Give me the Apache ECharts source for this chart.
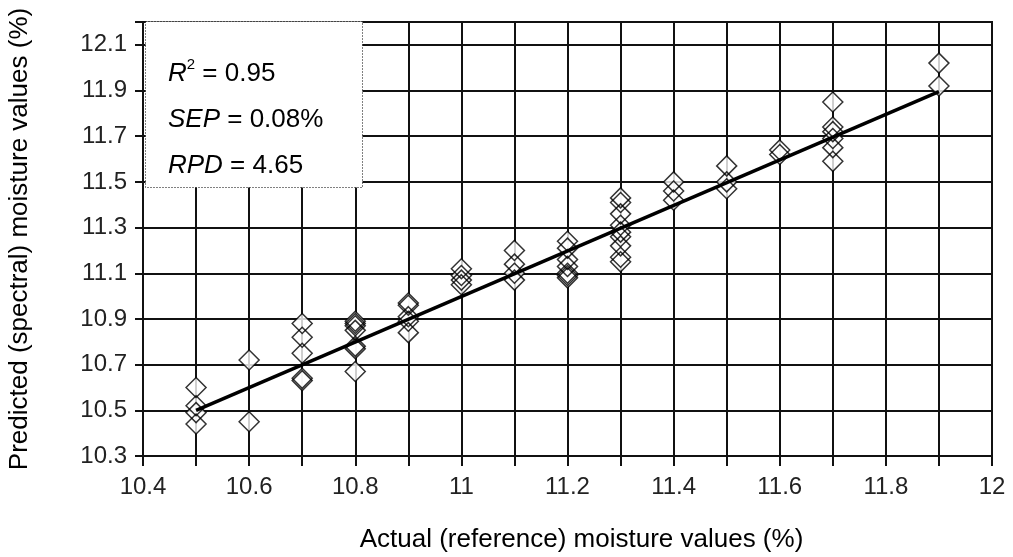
<!DOCTYPE html>
<html>
<head>
<meta charset="utf-8">
<script src="https://cdn.jsdelivr.net/npm/echarts@6/dist/echarts.min.js"></script>
<style>
  html, body { margin: 0; padding: 0; background: #fff; }
  #chart { width: 1013px; height: 557px; }
</style>
</head>
<body>
<div id="chart"></div>
<script>
// Reference moisture levels (%) and the spectral predictions made at each level
const actualLevels = [10.5, 10.6, 10.7, 10.8, 10.9, 11.0, 11.1, 11.2, 11.3, 11.4, 11.5, 11.6, 11.7, 11.9];
const predictedByLevel = [
  [10.60, 10.52, 10.49, 10.44],
  [10.72, 10.45],
  [10.88, 10.82, 10.75, 10.64, 10.63],
  [10.89, 10.88, 10.87, 10.85, 10.78, 10.77, 10.67],
  [10.97, 10.96, 10.91, 10.89, 10.84],
  [11.12, 11.09, 11.07, 11.05],
  [11.20, 11.14, 11.10, 11.07],
  [11.24, 11.21, 11.16, 11.13, 11.10, 11.09, 11.08],
  [11.43, 11.41, 11.36, 11.31, 11.28, 11.26, 11.22, 11.17, 11.15],
  [11.50, 11.46, 11.42],
  [11.57, 11.50, 11.47],
  [11.64, 11.62],
  [11.85, 11.74, 11.72, 11.69, 11.65, 11.59],
  [12.02, 11.92]
];

// Calibration line end points
const fitX = [10.5, 11.9];
const fitY = [10.50, 11.895];

// Calibration statistics
const statR2 = '0.95';
const statSEP = '0.08%';
const statRPD = '4.65';

// Axis titles
const xTitle = 'Actual (reference) moisture values (%)';
const yTitle = 'Predicted (spectral) moisture values (%)';

const points = [];
actualLevels.forEach((lv, i) => {
  predictedByLevel[i].forEach(p => points.push([lv, p]));
});
const fitLine = fitX.map((x, i) => [x, fitY[i]]);

const FONT = 'Liberation Sans, Arial, sans-serif';
const tickFont = { fontFamily: FONT, fontSize: 24, color: '#222' };
const boxFont = 26;

const chart = echarts.init(document.getElementById('chart'), null, { renderer: 'canvas' });

chart.setOption({
  animation: false,
  backgroundColor: '#fff',
  grid: {
    left: 143, right: 21, top: 22, bottom: 101,
    outerBoundsMode: 'none',
    containLabel: false,
    show: true, borderColor: '#111', borderWidth: 2, backgroundColor: 'transparent'
  },
  xAxis: {
    type: 'value',
    min: 10.4, max: 12, interval: 0.1,
    name: xTitle,
    nameLocation: 'middle',
    nameGap: 71,
    nameMoveOverlap: false,
    nameTextStyle: { fontFamily: FONT, fontSize: 26, color: '#000', padding: [0, 0, 0, 28] },
    axisLine: { show: true, onZero: false, lineStyle: { color: '#111', width: 2 } },
    axisTick: { show: true, inside: false, length: 10, lineStyle: { color: '#111', width: 2 } },
    axisLabel: Object.assign({
      margin: 19,
      formatter: v => (Math.round(v * 10) % 2 === 0 ? String(Number(v.toFixed(1))) : '')
    }, tickFont),
    splitLine: { show: true, lineStyle: { color: '#111', width: 2 } }
  },
  yAxis: {
    type: 'value',
    min: 10.3, max: 12.2, interval: 0.2,
    name: yTitle,
    nameLocation: 'middle',
    nameGap: 110,
    nameMoveOverlap: false,
    nameTextStyle: { fontFamily: FONT, fontSize: 26, color: '#000' },
    axisLine: { show: true, onZero: false, lineStyle: { color: '#111', width: 2 } },
    axisTick: { show: true, inside: false, length: 8, lineStyle: { color: '#111', width: 2 } },
    axisLabel: Object.assign({
      margin: 16,
      formatter: v => (Math.abs(v - 12.2) < 1e-6 ? '' : v.toFixed(1))
    }, tickFont),
    splitLine: { show: true, lineStyle: { color: '#111', width: 2 } }
  },
  series: [
    {
      // white diamond bodies
      type: 'scatter', data: points, symbol: 'diamond', symbolSize: 20,
      itemStyle: { color: '#fff', borderWidth: 0 }, z: 2, silent: true
    },
    {
      // diamond outlines
      type: 'scatter', data: points, symbol: 'diamond', symbolSize: 20,
      itemStyle: { color: 'transparent', borderColor: '#000', borderWidth: 1.5 }, z: 3, silent: true
    },
    {
      type: 'line', data: fitLine, symbol: 'none',
      lineStyle: { color: '#000', width: 3.5 }, z: 4, silent: true
    }
  ],
  graphic: [
    {
      type: 'rect', z: 100,
      shape: { x: 145.5, y: 21.5, width: 217, height: 166 },
      style: { fill: '#fff', stroke: '#000', lineWidth: 1, lineDash: [1, 2] }
    },
    {
      type: 'text', z: 101, x: 168, y: 74,
      style: {
        text: '{i|R}{s|2}{n| = ' + statR2 + '}',
        verticalAlign: 'middle',
        rich: {
          i: { fontFamily: FONT, fontSize: boxFont, fontStyle: 'italic', color: '#000' },
          s: { fontFamily: FONT, fontSize: 15, color: '#000', verticalAlign: 'top', padding: [0, 0, 18, 0] },
          n: { fontFamily: FONT, fontSize: boxFont, color: '#000' }
        }
      }
    },
    {
      type: 'text', z: 101, x: 168, y: 120,
      style: {
        text: '{i|SEP}{n| = ' + statSEP + '}',
        verticalAlign: 'middle',
        rich: {
          i: { fontFamily: FONT, fontSize: boxFont, fontStyle: 'italic', color: '#000' },
          n: { fontFamily: FONT, fontSize: boxFont, color: '#000' }
        }
      }
    },
    {
      type: 'text', z: 101, x: 168, y: 166,
      style: {
        text: '{i|RPD}{n| = ' + statRPD + '}',
        verticalAlign: 'middle',
        rich: {
          i: { fontFamily: FONT, fontSize: boxFont, fontStyle: 'italic', color: '#000' },
          n: { fontFamily: FONT, fontSize: boxFont, color: '#000' }
        }
      }
    }
  ]
});
</script>
</body>
</html>
